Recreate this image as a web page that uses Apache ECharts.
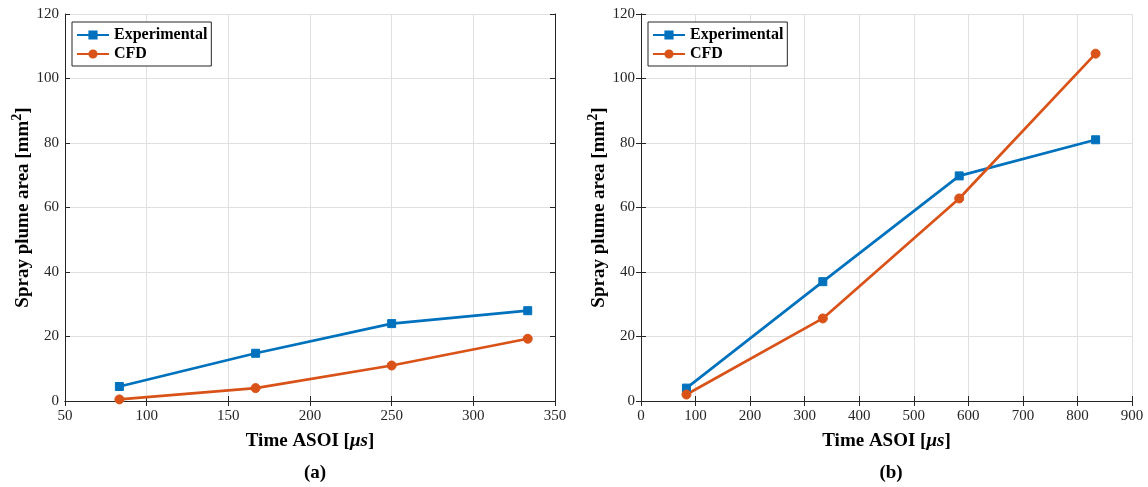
<!DOCTYPE html>
<html><head><meta charset="utf-8">
<script src="https://cdn.jsdelivr.net/npm/echarts@6/dist/echarts.min.js"></script>
<style>html,body{margin:0;padding:0;background:#fff}#c{width:1148px;height:487px}</style>
</head><body><div id="c"></div>
<script>
const timeA = [83.3, 166.7, 250, 333.3];
const expA = [4.5, 14.8, 24.0, 28.0];
const cfdA = [0.5, 4.0, 11.0, 19.3];
const timeB = [83.3, 333.3, 583.3, 833.3];
const expB = [4.0, 37.0, 69.8, 81.0];
const cfdB = [2.0, 25.6, 62.8, 107.7];
const seriesNames = ['Experimental', 'CFD'];
const panelLabels = ['(a)', '(b)'];
const xRangeA = [50, 350, 50];
const xRangeB = [0, 900, 100];
const yRange = [0, 120, 20];

const FONT = '"Liberation Serif", "Times New Roman", serif';
const AX = '#262626';
const BLUE = '#0072BD', ORANGE = '#D95319';

function pairs(x, y) { return x.map((v, i) => [v, y[i]]); }

const grids = [
  {left: 65, top: 14, width: 490, height: 387},
  {left: 641, top: 14, width: 491, height: 387}
];

function xAxes(gi, r) {
  return [{
    type: 'value', gridIndex: gi, min: r[0], max: r[1], interval: r[2], position: 'bottom',
    axisLine: {show: true, lineStyle: {color: AX, width: 1}},
    axisTick: {show: true, inside: true, length: 5, lineStyle: {color: AX}},
    axisLabel: {color: '#262626', fontFamily: FONT, fontSize: 15, margin: 8},
    splitLine: {show: true, lineStyle: {color: '#e0e0e0', width: 1}},
    name: '{a|Time ASOI [}{i|μs}{a|]}', nameLocation: 'middle', nameGap: 31,
    nameTextStyle: {rich: {
      a: {fontFamily: FONT, fontSize: 19, fontWeight: 'bold', color: '#000'},
      i: {fontFamily: FONT, fontSize: 19, fontWeight: 'bold', fontStyle: 'italic', color: '#000'}
    }}
  }, {
    type: 'value', gridIndex: gi, min: r[0], max: r[1], interval: r[2], position: 'top',
    axisLine: {show: true, lineStyle: {color: AX, width: 1}},
    axisTick: {show: true, inside: true, length: 5, lineStyle: {color: AX}},
    axisLabel: {show: false}, splitLine: {show: false}
  }];
}
function yAxes(gi) {
  return [{
    type: 'value', gridIndex: gi, min: yRange[0], max: yRange[1], interval: yRange[2], position: 'left',
    axisLine: {show: true, lineStyle: {color: AX, width: 1}},
    axisTick: {show: true, inside: true, length: 5, lineStyle: {color: AX}},
    axisLabel: {color: '#262626', fontFamily: FONT, fontSize: 15, margin: 6},
    splitLine: {show: true, lineStyle: {color: '#e0e0e0', width: 1}},
    name: '{a|Spray plume area [mm}{s|2}{a|]}', nameLocation: 'middle', nameGap: 29,
    nameTextStyle: {rich: {
      a: {fontFamily: FONT, fontSize: 19, fontWeight: 'bold', color: '#000'},
      s: {fontFamily: FONT, fontSize: 14, fontWeight: 'bold', color: '#000', padding: [0, 0, 11, 0]}
    }}
  }, {
    type: 'value', gridIndex: gi, min: yRange[0], max: yRange[1], interval: yRange[2], position: 'right',
    axisLine: {show: true, lineStyle: {color: AX, width: 1}},
    axisTick: {show: true, inside: true, length: 5, lineStyle: {color: AX}},
    axisLabel: {show: false}, splitLine: {show: false}
  }];
}

function line(name, data, gi, color, symbol, size) {
  return {
    type: 'line', name: name, data: data, xAxisIndex: gi * 2, yAxisIndex: gi * 2,
    symbol: symbol, symbolSize: size, showSymbol: true,
    lineStyle: {color: color, width: 2.7},
    itemStyle: {color: color, borderColor: color, borderWidth: 1},
    animation: false, z: 3
  };
}

function legend(left, gi) {
  return {
    left: left, top: 22, orient: 'vertical', itemGap: 3, itemWidth: 32, itemHeight: 9,
    padding: [5, 4, 4, 4], borderColor: '#262626', borderWidth: 1, backgroundColor: '#fff',
    textStyle: {fontFamily: FONT, fontSize: 16, fontWeight: 'bold', color: '#000'},
    data: seriesNames.map(n => ({name: n})),
    selectedMode: false
  };
}

const chart = echarts.init(document.getElementById('c'), null, {renderer: 'canvas'});
chart.setOption({
  backgroundColor: '#fff',
  animation: false,
  grid: grids,
  xAxis: [...xAxes(0, xRangeA), ...xAxes(1, xRangeB)],
  yAxis: [...yAxes(0), ...yAxes(1)],
  legend: [legend(72, 0), legend(648, 1)],
  title: [
    {text: panelLabels[0], left: 310, top: 459, textAlign: 'center',
     textStyle: {fontFamily: FONT, fontSize: 19, fontWeight: 'bold', color: '#000'}},
    {text: panelLabels[1], left: 886, top: 459, textAlign: 'center',
     textStyle: {fontFamily: FONT, fontSize: 19, fontWeight: 'bold', color: '#000'}}
  ],
  series: [
    line(seriesNames[0], pairs(timeA, expA), 0, BLUE, 'rect', 8),
    line(seriesNames[1], pairs(timeA, cfdA), 0, ORANGE, 'circle', 9),
    line(seriesNames[0], pairs(timeB, expB), 1, BLUE, 'rect', 8),
    line(seriesNames[1], pairs(timeB, cfdB), 1, ORANGE, 'circle', 9)
  ]
});
</script></body></html>
